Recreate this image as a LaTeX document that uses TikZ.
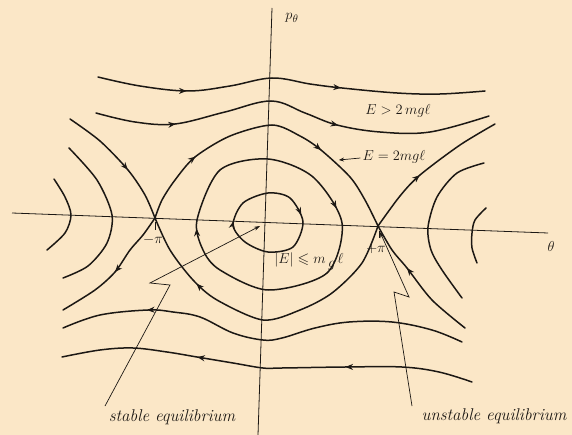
\documentclass[tikz,border=0pt]{standalone}
\usepackage{amssymb}
\usetikzlibrary{decorations.markings,arrows.meta}
\definecolor{paper}{RGB}{251,231,199}
\definecolor{ink}{RGB}{28,24,20}
\begin{document}
\begin{tikzpicture}[x=1pt,y=-1pt,
  orbit/.style={ink,line width=1.5pt,line cap=round,line join=round},
  axis/.style={ink,line width=0.8pt},
  pointer/.style={ink,line width=0.7pt,line join=miter},
  arr/.style={postaction={decorate,decoration={markings,mark=at position #1 with {\arrow{Stealth[length=7.5pt,width=6pt]}}}}},
  arrb/.style 2 args={postaction={decorate,decoration={markings,
      mark=at position #1 with {\arrow{Stealth[length=7.5pt,width=6pt]}},
      mark=at position #2 with {\arrow{Stealth[length=7.5pt,width=6pt]}}}}},
  lbl/.style={ink,inner sep=0pt,font=\fontsize{15}{17}\selectfont},
  word/.style={ink,inner sep=0pt,font=\fontsize{17}{19}\selectfont\itshape}]
\fill[paper] (0,0) rectangle (572,435);
\useasboundingbox (0,0) rectangle (572,435);

% axes
\draw[axis] (12,213) -- (548,233);
\draw[axis] (272,8) -- (258,435);

% top open orbits
\draw[orbit,arrb={0.23}{0.63}] plot[smooth,tension=0.6] coordinates {(98,77) (140,86) (188,91) (230,86) (272,78) (310,84) (342,88) (397,93) (440,94) (485,91)};
\draw[orbit,arrb={0.2}{0.62}] plot[smooth,tension=0.6] coordinates {(96,113) (135,122) (175,124) (225,112) (271,101) (305,113) (337,125) (380,132) (430,132) (489,116)};

% separatrices
\draw[orbit,arr=0.58] plot[smooth] coordinates {(70,119) (100,141) (128,170) (145,195) (155,218)};
\draw[orbit,arrb={0.24}{0.69}] plot[smooth] coordinates {(155,218) (162,200) (175,180) (195,157) (230,136) (272,125) (300,136) (321,150) (350,177) (365,200) (378,226)};
\draw[orbit,arr=0.42] plot[smooth] coordinates {(378,226) (400,196) (420,175) (460,145) (495,124)};
\draw[orbit,arr=0.75] plot[smooth] coordinates {(378,226) (362,263) (332,293) (300,310) (263,320) (217,300) (193,280) (170,250) (155,218)};
\draw[orbit,arr=0.51] plot[smooth] coordinates {(155,218) (143,235) (130,250) (115,272) (95,290) (63,310)};
\draw[orbit,arr=0.62] plot[smooth] coordinates {(465,328) (432,300) (407,268) (392,250) (378,226)};

% closed orbits
\draw[orbit,arrb={0.09}{0.625}] plot[smooth cycle] coordinates {(268,159) (313,177) (342,223) (327,273) (268,290) (220,270) (203,250) (197,220) (220,170)};
\draw[orbit,arrb={0.1}{0.65}] plot[smooth cycle] coordinates {(268,193) (290,198) (303,222) (293,247) (268,252) (245,242) (233,225) (243,203)};

% side arcs
\draw[orbit] plot[smooth] coordinates {(54,179) (65,197) (71,215) (65,233) (47,250)};
\draw[orbit] plot[smooth] coordinates {(69,148) (97,180) (112,215) (107,243) (88,266) (63,278)};
\draw[orbit] plot[smooth] coordinates {(484,163) (457,173) (437,197) (428,227) (431,250) (442,270) (462,298)};
\draw[orbit] plot[smooth] coordinates {(486,208) (475,220) (472,233) (472,248) (477,263)};

% bottom open orbits
\draw[orbit,arr=0.79] plot[smooth,tension=0.6] coordinates {(462,342) (432,330) (392,322) (349,322) (315,328) (282,338) (263,340) (233,333) (200,317) (173,312) (148,310) (100,315) (63,328)};
\draw[orbit,arrb={0.31}{0.67}] plot[smooth,tension=0.6] coordinates {(472,382) (439,372) (402,367) (345,367) (282,368) (263,368) (233,363) (197,357) (167,352) (133,348) (100,350) (62,357)};

% ticks at the saddles
\draw[axis] (155,222) -- (155,230);
\draw[axis] (379,231) -- (379,238);

% labels
\node[lbl] (ptheta) at (292,18) {$p_\theta$};
\node[lbl] (theta) at (551,247) {$\theta$};
\node[lbl] (Egt) at (398,111) {$E>2\,mg\ell$};
\node[lbl] (Eeq) at (394,157) {$E=2mg\ell$};
\draw[pointer,-{Stealth[length=5pt,width=4pt]}] (Eeq.west) ++(-2,1) -- (339,160);
\node[lbl] (Ele) at (309,262) {$|E|\leqslant m\,\raisebox{-4pt}{$g$}\,\ell$};
\node[lbl] (mpi) at (153,240) {$-\pi$};
\node[lbl] (ppi) at (376,249) {$+\pi$};
\node[word] (stable) at (172,417) {stable equilibrium};
\node[word] (unstable) at (494,416) {unstable equilibrium};

% pointers
\coordinate (stabtip) at (260,226);
\coordinate (unstabtip) at (380,232);
\draw[pointer,-{Stealth[length=6pt,width=4pt]}] (105,406) -- (170,285) -- (150,283) -- (stabtip);
\draw[pointer,-{Stealth[length=6pt,width=4pt]}] (412,406) -- (394,292) -- (409,297) -- (unstabtip);
\end{tikzpicture}
\end{document}
